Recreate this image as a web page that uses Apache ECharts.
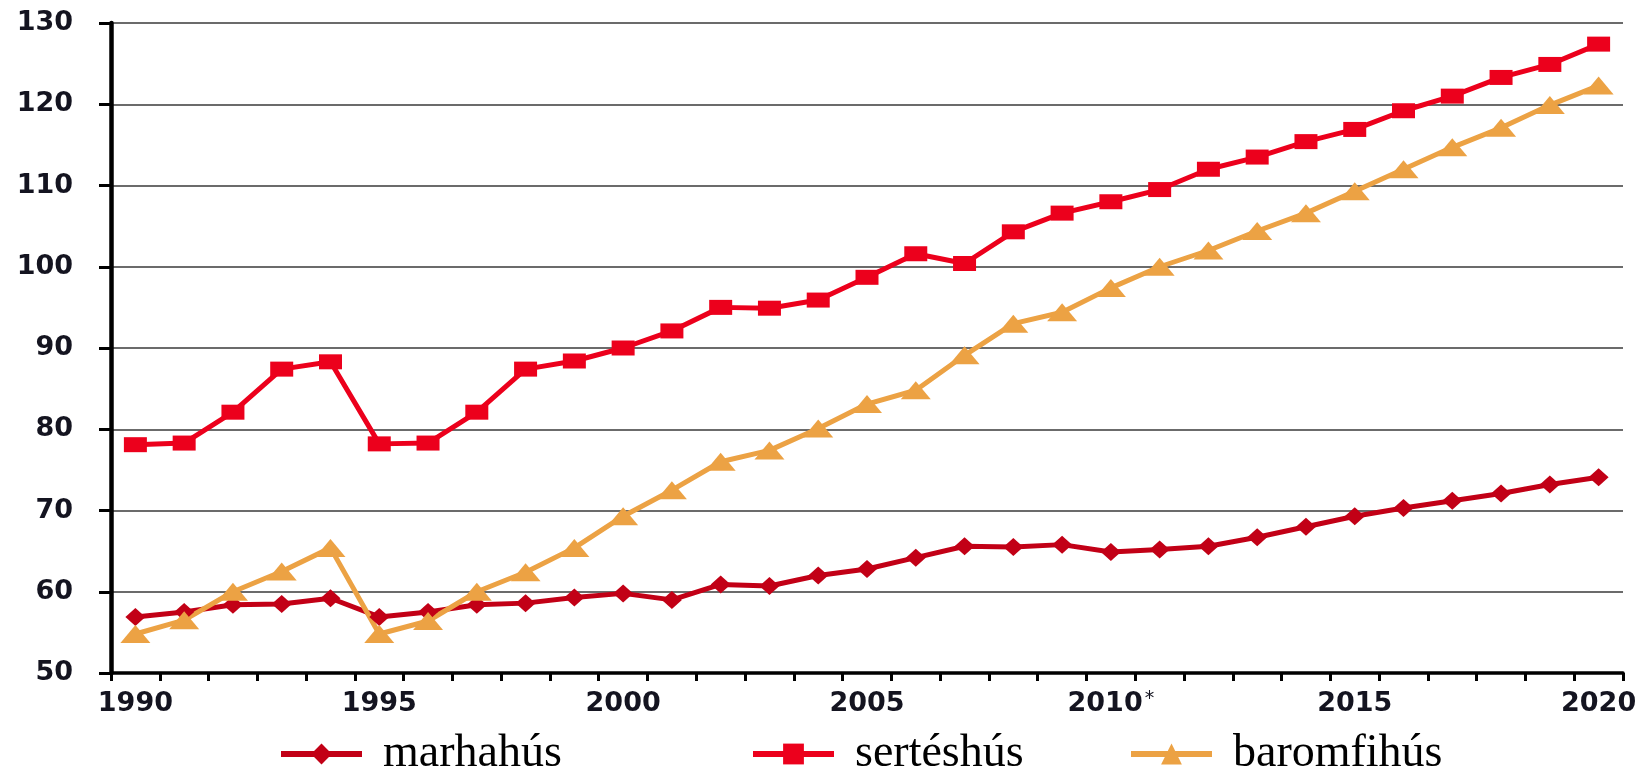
<!DOCTYPE html>
<html>
<head>
<meta charset="utf-8">
<script src="https://cdn.jsdelivr.net/npm/echarts@6/dist/echarts.min.js"></script>
<style>
html,body{margin:0;padding:0;background:#fff;}
#chart{width:1644px;height:772px;}
</style>
</head>
<body>
<div id="chart"></div>
<script>
const years = ['1990','1991','1992','1993','1994','1995','1996','1997','1998','1999',
  '2000','2001','2002','2003','2004','2005','2006','2007','2008','2009',
  '2010*','2011','2012','2013','2014','2015','2016','2017','2018','2019','2020'];

const marhahus = [56.9,57.5,58.4,58.5,59.2,56.9,57.5,58.4,58.6,59.3,
  59.8,59.0,60.9,60.7,62.0,62.8,64.2,65.6,65.5,65.8,
  64.9,65.2,65.6,66.7,68.0,69.3,70.3,71.2,72.1,73.2,74.1];

const serteshus = [78.1,78.3,82.1,87.4,88.3,78.2,78.3,82.1,87.4,88.4,
  90.0,92.1,95.0,94.9,95.9,98.7,101.6,100.4,104.3,106.6,
  108.0,109.5,112.0,113.5,115.4,116.9,119.2,121.0,123.3,124.9,127.4];

const baromfihus = [54.8,56.5,60.0,62.5,65.4,54.8,56.4,60.0,62.4,65.4,
  69.3,72.5,76.0,77.4,80.1,83.1,84.8,89.1,93.0,94.4,
  97.4,100.0,102.0,104.4,106.6,109.3,112.0,114.7,117.1,119.9,122.3];

const seriesNames = ['marhahús','sertéshús','baromfihús'];
const colors = ['#c20016','#ec001c','#eca244'];

const chart = echarts.init(document.getElementById('chart'));
const axisFont = {fontFamily:'DejaVu Sans', fontWeight:'bold', fontSize:27, color:'#141420'};
const legendText = {fontFamily:'Liberation Serif, Times New Roman, serif', fontSize:46, color:'#000', padding:[0,0,0,16]};
function mkLegend(name, left){
  return {data:[name], left:left, top:726, itemWidth:81, itemHeight:26,
    textStyle:legendText, lineStyle:{width:6}, selectedMode:false};
}
chart.setOption({
  animation:false,
  backgroundColor:'#fff',
  grid:{left:111, right:21, top:23, bottom:99, containLabel:false},
  legend:[mkLegend(seriesNames[0],273), mkLegend(seriesNames[1],745), mkLegend(seriesNames[2],1123)],
  xAxis:{
    type:'category', data:years, boundaryGap:true,
    axisLine:{lineStyle:{color:'#000', width:3.5}},
    axisTick:{show:true, interval:0, length:8, lineStyle:{color:'#000', width:3}},
    axisLabel:{interval:4, margin:17, ...axisFont,
      formatter:function(v){ return v.endsWith('*') ? '{a|'+v.slice(0,-1)+'}{s|*}' : '{a|'+v+'}'; },
      rich:{a:{...axisFont}, s:{...axisFont, fontSize:19, fontWeight:'normal', verticalAlign:'top', padding:[0,0,8,2]}}
    },
    splitLine:{show:false}
  },
  yAxis:{
    type:'value', min:50, max:130, interval:10,
    axisLine:{show:true, lineStyle:{color:'#000', width:4.5}},
    axisTick:{show:true, length:12, lineStyle:{color:'#000', width:3}},
    axisLabel:{margin:38, ...axisFont},
    splitLine:{show:true, lineStyle:{color:'#3a3a3a', width:1.5}}
  },
  series:[
    {name:seriesNames[0], type:'line', data:marhahus, color:colors[0],
      symbol:'diamond', symbolSize:[20,18], lineStyle:{width:5}, itemStyle:{color:colors[0]}},
    {name:seriesNames[1], type:'line', data:serteshus, color:colors[1],
      symbol:'rect', symbolSize:[23,15], lineStyle:{width:5}, itemStyle:{color:colors[1]}},
    {name:seriesNames[2], type:'line', data:baromfihus, color:colors[2],
      symbol:'triangle', symbolSize:[30,18], lineStyle:{width:5}, itemStyle:{color:colors[2]}}
  ]
});
</script>
</body>
</html>
